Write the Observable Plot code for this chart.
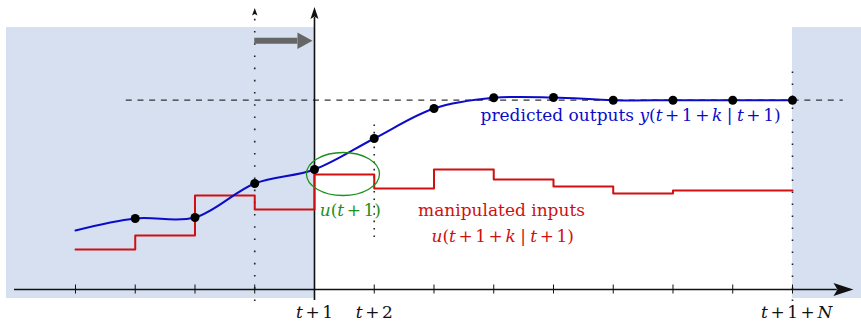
<!DOCTYPE html>
<html><head><meta charset="utf-8">
<script src="https://cdn.jsdelivr.net/npm/d3@7"></script>
<script src="https://cdn.jsdelivr.net/npm/@observablehq/plot@0.6"></script>
<style>body{margin:0;background:#fff}</style>
</head><body><div id="chart"></div>
<script>
// time steps relative to t+1 (0 = t+1, 8 = t+1+N)
const steps = [-4, -3, -2, -1, 0, 1, 2, 3, 4, 5, 6, 7, 8];
// predicted / past outputs y (arbitrary units)
const outputs = [5.9, 7.1, 7.2, 10.6, 12.0, 15.1, 18.1, 19.17, 19.2, 18.93, 18.93, 18.93, 18.93];
// sample points that are marked with dots (all but the first)
const dotSteps = [-3, -2, -1, 0, 1, 2, 3, 4, 5, 6, 7, 8];
// manipulated inputs u, held from steps[i] to steps[i+1]
const inputs = [4.0, 5.4, 9.4, 8.0, 11.5, 10.1, 12.0, 11.0, 10.3, 9.6, 9.9, 9.9];
const setpoint = 18.93;
const tickSteps = [-4, -3, -2, -1, 0, 1, 2, 3, 4, 5, 6, 7, 8];
const tickLabels = ["$t+1$", "$t+2$", "$t+1+N$"];
const tickLabelSteps = [0, 1, 8.07];
const outputLabel = "predicted outputs $y(t+1+k|t+1)$";
const inputLabel1 = "manipulated inputs";
const inputLabel2 = "$u(t+1+k|t+1)$";
const currentInputLabel = "$u(t+1)$";

const outData = steps.map((k, i) => ({k, y: outputs[i]}));
const dotData = dotSteps.map(k => outData.find(d => d.k === k));
const inData = steps.map((k, i) => ({k, u: inputs[Math.min(i, inputs.length - 1)]}));

const FONT = "DejaVu Serif";
const BLUE = "#0c0cc8", RED = "#d01010", GREEN = "#1f8f1f";

function poly(pts, fill) {
  const d = pts.concat([pts[0]]).map(([x, y]) => ({x, y}));
  return Plot.line(d, {x: "x", y: "y", fill, stroke: "none", curve: "linear"});
}
function ellipse(cx, cy, rx, ry, stroke, sw) {
  return (index, scales) => {
    const e = document.createElementNS("http://www.w3.org/2000/svg", "ellipse");
    const x0 = scales.x(cx), y0 = scales.y(cy);
    e.setAttribute("cx", x0); e.setAttribute("cy", y0);
    e.setAttribute("rx", Math.abs(scales.x(cx + rx) - x0));
    e.setAttribute("ry", Math.abs(scales.y(cy + ry) - y0));
    e.setAttribute("fill", "none"); e.setAttribute("stroke", stroke);
    e.setAttribute("stroke-width", sw);
    return e;
  };
}

const chart = Plot.plot({
  width: 861, height: 321, margin: 0,
  x: {domain: [-5.255, 9.155], axis: null},
  y: {domain: [-3.2, 28.9], axis: null},
  marks: [
    Plot.rectY([{x1: -5.155, x2: 0, y1: -0.9, y2: 26.2}, {x1: 8, x2: 9.3, y1: -0.9, y2: 26.2}],
      {x1: "x1", x2: "x2", y1: "y1", y2: "y2", fill: "#d6e0f0"}),
    Plot.ruleY([setpoint], {x1: -3.15, x2: 8.85, stroke: "#333", strokeWidth: 1.3, strokeDasharray: "6,5.7"}),
    Plot.ruleX([-1], {y1: -1.2, y2: 27.4, stroke: "#222", strokeWidth: 1.6, strokeDasharray: "1.6,10.6"}),
    Plot.ruleX([1], {y1: 5.2, y2: 16.8, stroke: "#222", strokeWidth: 1.6, strokeDasharray: "1.6,5.8"}),
    Plot.ruleX([8], {y1: -1.2, y2: 22.1, stroke: "#222", strokeWidth: 1.6, strokeDasharray: "1.6,10.4"}),
    Plot.ruleY([0], {x1: -5.02, x2: 8.75, stroke: "#111", strokeWidth: 1.6}),
    Plot.ruleX([0], {y1: -1.1, y2: 27.2, stroke: "#111", strokeWidth: 1.6}),
    Plot.ruleX(tickSteps, {y1: -0.45, y2: 0.45, stroke: "#111", strokeWidth: 1}),
    Plot.line(inData, {x: "k", y: "u", curve: "step-after", stroke: RED, strokeWidth: 2}),
    Plot.line(outData, {x: "k", y: "y", curve: "catmull-rom", stroke: BLUE, strokeWidth: 2}),
    Plot.dot(dotData, {x: "k", y: "y", r: 4.5, fill: "black", stroke: "none"}),
    ellipse(0.485, 11.5, 0.611, 2.15, GREEN, 1.3),
    Plot.ruleY([24.87], {x1: -1, x2: -0.28, stroke: "#666", strokeWidth: 6}),
    poly([[-0.033, 24.87], [-0.285, 25.7], [-0.285, 24.04]], "#666"),
    poly([[9.02, 0], [8.686, 0.65], [8.753, 0], [8.686, -0.65]], "#111"),
    poly([[0, 28.25], [-0.067, 27.05], [0, 27.3], [0.067, 27.05]], "#111"),
    poly([[-1, 28.15], [-1.045, 27.4], [-1, 27.55], [-0.955, 27.4]], "#111"),
    Plot.text([outputLabel], {x: 5.29, y: 17.44, text: d => d, fill: BLUE, fontSize: 17, fontFamily: FONT}),
    Plot.text([inputLabel1], {x: 3.13, y: 7.94, text: d => d, fill: RED, fontSize: 17, fontFamily: FONT}),
    Plot.text([inputLabel2], {x: 3.15, y: 5.29, text: d => d, fill: RED, fontSize: 17, fontFamily: FONT}),
    Plot.text([currentInputLabel], {x: 0.6, y: 7.94, text: d => d, fill: GREEN, fontSize: 17, fontFamily: FONT}),
    Plot.text(tickLabels, {x: (d, i) => tickLabelSteps[i], y: -2.3, text: d => d, fill: "#111", fontSize: 17, fontFamily: FONT})
  ]
});

function mathify(svg) {
  const NS = "http://www.w3.org/2000/svg";
  svg.querySelectorAll("text").forEach(t => {
    const s = t.textContent;
    if (!s.includes("$")) return;
    t.textContent = "";
    const add = (str, italic, dx) => {
      const ts = document.createElementNS(NS, "tspan");
      ts.textContent = str;
      if (italic) ts.setAttribute("font-style", "italic");
      if (dx) ts.setAttribute("dx", dx);
      t.appendChild(ts);
    };
    s.split("$").forEach((p, i) => {
      if (!p) return;
      if (i % 2 === 0) { add(p, false); return; }
      let pad = null;
      for (const ch of p) {
        if (ch === "+") { add(ch, false, "0.15em"); pad = "0.15em"; continue; }
        if (ch === "|") { add(ch, false, "0.26em"); pad = "0.26em"; continue; }
        add(ch, /[A-Za-z]/.test(ch), pad);
        pad = null;
      }
    });
  });
}
mathify(chart);
document.getElementById("chart").appendChild(chart);
</script>
</body></html>
